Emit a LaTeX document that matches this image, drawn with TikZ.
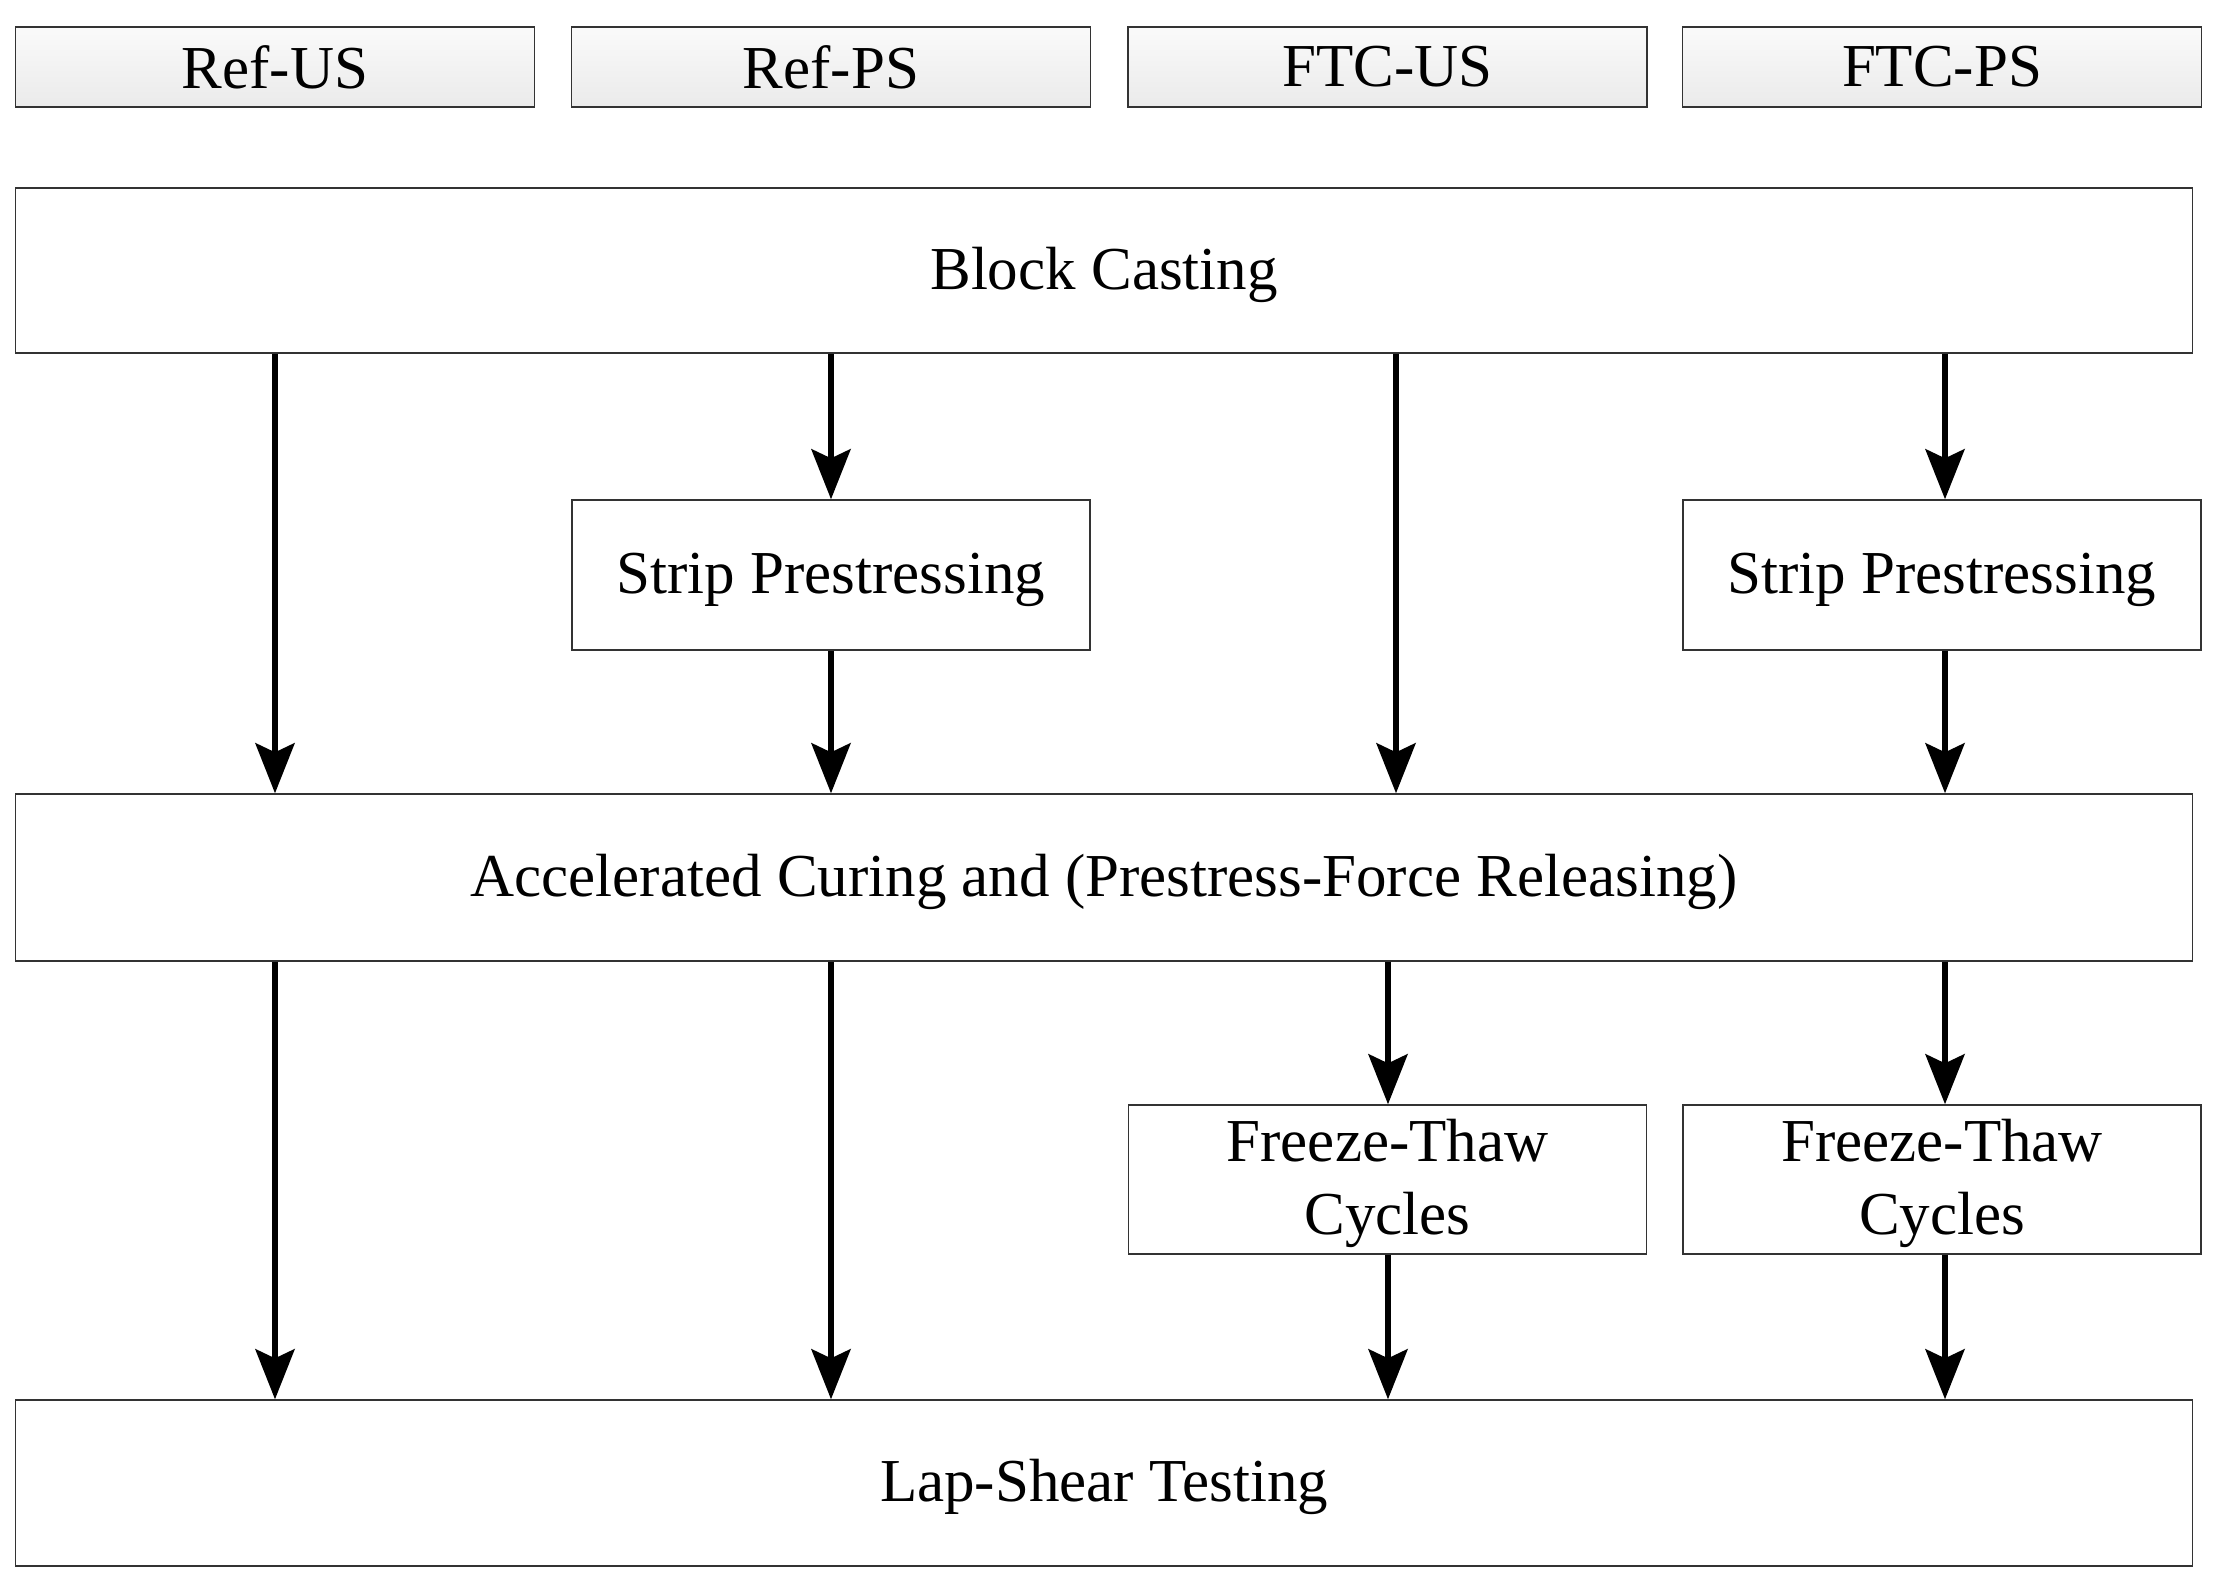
\documentclass[tikz,border=0pt]{standalone}
\usepackage{fontspec}
\setmainfont{Liberation Serif}
\usetikzlibrary{arrows.meta}
\newcommand\lowertext[1]{\raisebox{-2pt}[\height][\depth]{\begin{tabular}{@{}c@{}}#1\end{tabular}}}
\begin{document}
\begin{tikzpicture}[x=0.5pt,y=-0.5pt,
  font=\fontsize{30.5}{36.7}\selectfont,
  hdr/.style={draw=black!80, line width=0.8pt, top color=gray!4, bottom color=gray!16, minimum width=259.5pt, minimum height=40pt, inner sep=0pt, align=center},
  wide/.style={draw=black!80, line width=0.7pt, fill=white, minimum width=1088.75pt, minimum height=83pt, inner sep=0pt, align=center},
  small/.style={draw=black!80, line width=0.7pt, fill=white, minimum width=259pt, minimum height=75pt, inner sep=0pt, align=center},
  arr/.style={line width=3pt, -{Stealth[length=25pt, width=19.5pt, inset=4.5pt]}}]
\useasboundingbox (0,0) rectangle (2216,1583);
% headers
\node[hdr] (h1) at (275,67) {Ref-US};
\node[hdr] (h2) at (831,67) {Ref-PS};
\node[hdr] (h3) at (1387.5,67) {FTC-US};
\node[hdr] (h4) at (1942,67) {FTC-PS};
% main boxes
\node[wide, minimum height=82.5pt] (block) at (1104,270.5) {\lowertext{Block Casting}};
\node[small] (sp1) at (831,575) {\lowertext{Strip Prestressing}};
\node[small] (sp2) at (1942,575) {\lowertext{Strip Prestressing}};
\node[wide, minimum height=83.5pt] (accel) at (1104,877.5) {\lowertext{Accelerated Curing and (Prestress-Force Releasing)}};
\node[small, minimum height=74.5pt] (ft1) at (1387.5,1179.5) {\lowertext{Freeze-Thaw\\Cycles}};
\node[small, minimum height=74.5pt] (ft2) at (1942,1179.5) {\lowertext{Freeze-Thaw\\Cycles}};
\node[wide] (lap) at (1104,1483) {\lowertext{Lap-Shear Testing}};
% column coordinates
\coordinate (c1) at (275,0);
\coordinate (c2) at (831,0);
\coordinate (c3) at (1396,0);
\coordinate (c3b) at (1388,0);
\coordinate (c4) at (1945,0);
% arrows
\draw[arr] (block.south -| c1) -- (accel.north -| c1);
\draw[arr] (block.south -| c2) -- (sp1.north -| c2);
\draw[arr] (sp1.south -| c2) -- (accel.north -| c2);
\draw[arr] (block.south -| c3) -- (accel.north -| c3);
\draw[arr] (block.south -| c4) -- (sp2.north -| c4);
\draw[arr] (sp2.south -| c4) -- (accel.north -| c4);
\draw[arr] (accel.south -| c1) -- (lap.north -| c1);
\draw[arr] (accel.south -| c2) -- (lap.north -| c2);
\draw[arr] (accel.south -| c3b) -- (ft1.north -| c3b);
\draw[arr] (ft1.south -| c3b) -- (lap.north -| c3b);
\draw[arr] (accel.south -| c4) -- (ft2.north -| c4);
\draw[arr] (ft2.south -| c4) -- (lap.north -| c4);
\end{tikzpicture}
\end{document}
